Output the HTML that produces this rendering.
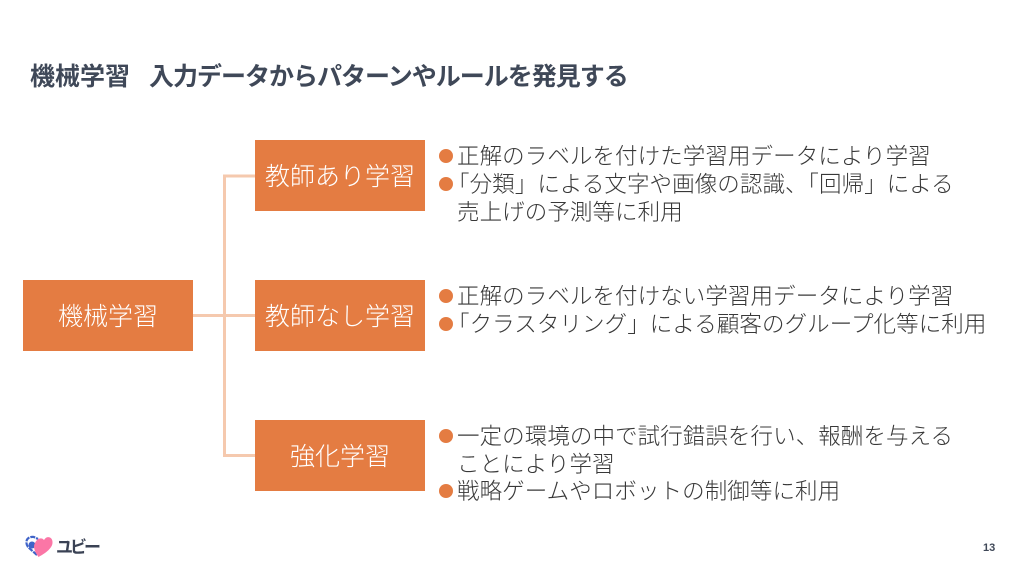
<!DOCTYPE html>
<html lang="ja"><head><meta charset="utf-8">
<style>
html,body{margin:0;padding:0;background:#fff}
#p{position:relative;width:1024px;height:576px;overflow:hidden;background:#fff;font-family:"Liberation Sans","Noto Sans CJK JP",sans-serif}
.t{position:absolute;white-space:nowrap;line-height:30px;height:30px;font-size:22.5px;color:#383838;font-weight:300;letter-spacing:.08px}
.b{position:absolute;background:#e47c42;color:#fff;font-size:25px;text-align:center;white-space:nowrap;font-weight:300;height:71px;line-height:75px;width:170px}
.d{position:absolute;width:14px;height:14px;border-radius:50%;background:#e47c42;left:439px}
.h{margin-left:-10px}
</style></head><body><div id="p">
<div class="t" style="left:30px;top:62px;font-size:25px;font-weight:700;color:#3f4858;letter-spacing:0">機械学習</div>
<div class="t" style="left:149px;top:62px;font-size:25px;font-weight:700;color:#3f4858;letter-spacing:-1px">入力データからパターンやルールを発見する</div>

<svg style="position:absolute;left:0;top:0" width="1024" height="576">
<path d="M255 176H224.500V455.500H255M192 315.500H255" fill="none" stroke="#f5c9ae" stroke-width="3"/>
<path d="M37 555L28 547C24 541 28 536 34 537L38 539" fill="none" stroke="#3f63c8" stroke-width="2.200" stroke-dasharray="5 1"/>
<circle cx="32" cy="545" r="3.500" fill="#3f63c8"/>
<path d="M38.500 557C34 551 33 546 35 543C37 538 42 537 44 540C47 535 53 537 52.500 543C52 549 44 554 38.500 557Z" fill="#fb76a6"/>
<text x="56" y="553" font-family="Liberation Sans,Noto Sans CJK JP,sans-serif" font-weight="700" font-size="17" fill="#3a4254" textLength="45">ユビー</text>
</svg>

<div class="b" style="left:23px;top:280px">機械学習</div>
<div class="b" style="left:255px;top:140px">教師あり学習</div>
<div class="b" style="left:255px;top:280px">教師なし学習</div>
<div class="b" style="left:255px;top:420px">強化学習</div>

<div class="d" style="top:149px"></div>
<div class="t" style="left:457px;top:142px">正解のラベルを付けた学習用データにより学習</div>
<div class="d" style="top:177px"></div>
<div class="t" style="left:457px;top:170px"><span class="h">「</span>分類」による文字や画像の認識、「回帰」による</div>
<div class="t" style="left:457px;top:198px">売上げの予測等に利用</div>

<div class="d" style="top:289px"></div>
<div class="t" style="left:457px;top:282px">正解のラベルを付けない学習用データにより学習</div>
<div class="d" style="top:317px"></div>
<div class="t" style="left:457px;top:310px"><span class="h">「</span>クラスタリング」による顧客のグループ化等に利用</div>

<div class="d" style="top:429px"></div>
<div class="t" style="left:457px;top:422px">一定の環境の中で試行錯誤を行い、報酬を与える</div>
<div class="t" style="left:457px;top:450px">ことにより学習</div>
<div class="d" style="top:484px"></div>
<div class="t" style="left:457px;top:477px">戦略ゲームやロボットの制御等に利用</div>

<div class="t" style="left:983px;top:533px;font-size:11px;font-weight:700;color:#3f4858;letter-spacing:0">13</div>
</div></body></html>
